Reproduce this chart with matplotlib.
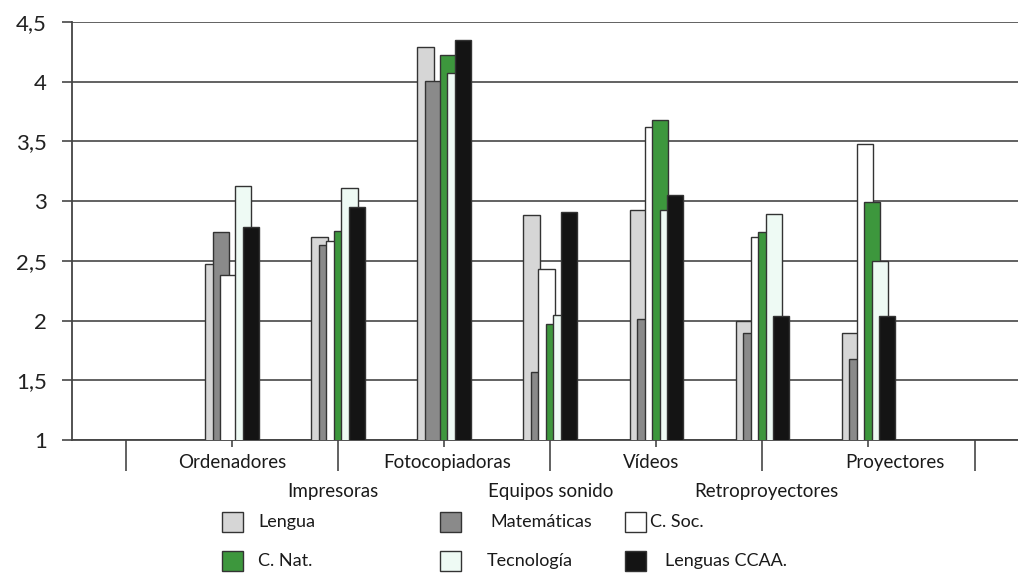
import numpy as np
import matplotlib.pyplot as plt
from matplotlib.patches import Rectangle

plt.rcParams['font.family'] = ['Lato', 'DejaVu Sans']

# chart data
categories = ['Ordenadores', 'Impresoras', 'Fotocopiadoras', 'Equipos sonido',
              'Vídeos', 'Retroproyectores', 'Proyectores']
series_names = ['Lengua', 'Matemáticas', 'C. Soc.', 'C. Nat.', 'Tecnología', 'Lenguas CCAA.']
lengua      = [2.47, 2.70, 4.29, 2.88, 2.93, 2.00, 1.90]
matematicas = [2.74, 2.63, 4.01, 1.57, 2.01, 1.90, 1.68]
c_soc       = [2.38, 2.67, np.nan, 2.43, 3.62, 2.70, 3.48]
c_nat       = [np.nan, 2.75, 4.22, 1.97, 3.68, 2.74, 2.99]
tecnologia  = [3.13, 3.11, 4.07, 2.05, 2.93, 2.89, 2.50]
lenguas_ccaa = [2.78, 2.95, 4.35, 2.91, 3.05, 2.04, 2.04]
y_ticks = [1, 1.5, 2, 2.5, 3, 3.5, 4, 4.5]

values = [lengua, matematicas, c_soc, c_nat, tecnologia, lenguas_ccaa]
colors = ['#d6d6d6', '#8a8a8a', '#ffffff', '#3d973d', '#eefaf4', '#141414']
edge = '#333333'

fig = plt.figure(figsize=(10.18, 5.75), dpi=100)
ax = fig.add_axes([72 / 1018, 1 - 440 / 575, 1 - 72 / 1018, (440 - 22) / 575])

# category slots: empty slot at 0 and 8, data at 1..7
x = np.arange(1, len(categories) + 1)
step = 0.0707
width = 0.152
for i, (vals, col) in enumerate(zip(values, colors)):
    ax.bar(x + (i - 2.5) * step, vals, width=width, color=col, edgecolor=edge,
           linewidth=1.0, zorder=3 + i)

ax.set_ylim(1, 4.5)
ax.set_xlim(-0.51, 8.41)
ax.set_yticks(y_ticks)
ax.set_yticklabels([str(t).replace('.', ',') if t % 1 else str(int(t)) for t in y_ticks],
                   fontsize=16, color='#222222')
ax.yaxis.grid(True, color='#555555', linewidth=1.3, zorder=0)
ax.set_axisbelow(True)
ax.tick_params(axis='y', length=7, width=1.3, color='#555555', pad=11)

# x ticks: long separators on even slots, short marks on odd slots
ax.set_xticks([0, 2, 4, 6, 8])
ax.set_xticks([1, 3, 5, 7], minor=True)
ax.set_xticklabels([])
ax.tick_params(axis='x', which='major', length=22, width=1.3, color='#555555', direction='out')
ax.tick_params(axis='x', which='minor', length=5, width=1.3, color='#555555', direction='out')

for s in ['top', 'right']:
    ax.spines[s].set_visible(False)
for s in ['left', 'bottom']:
    ax.spines[s].set_color('#444444')
    ax.spines[s].set_linewidth(1.3)

# category labels on two alternating rows
label_dx = [0, -0.05, 0.03, 0, -0.05, 0.04, 0.25]
for i, (xi, name) in enumerate(zip(x, categories)):
    yoff = -0.19 if i % 2 == 0 else -0.43
    ax.text(xi + label_dx[i], 1 + yoff, name, ha='center', va='center', fontsize=13.5,
            color='#1a1a1a', transform=ax.transData, clip_on=False)

# legend drawn by hand, three columns and two rows
sw_x = [222, 440, 625]
txt_x = [[258, 490, 650], [258, 487, 665]]
row_y = [522, 561]
for k, name in enumerate(series_names):
    r, c = divmod(k, 3)
    fig.patches.append(Rectangle((sw_x[c] / 1018, 1 - (row_y[r] + 10) / 575), 21 / 1018, 20 / 575,
                                 transform=fig.transFigure, facecolor=colors[k],
                                 edgecolor=edge, linewidth=1.0))
    fig.text(txt_x[r][c] / 1018, 1 - row_y[r] / 575, name, ha='left', va='center',
             fontsize=13, color='#1a1a1a')

fig.savefig('out.png', dpi=100)
